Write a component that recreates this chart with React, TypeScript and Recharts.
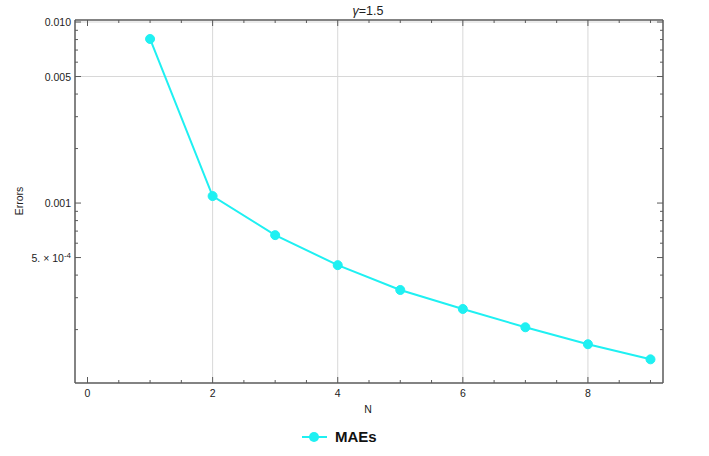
import React from "react";
import { LineChart, Line, XAxis, YAxis, ReferenceLine, Label } from "recharts";

const nValues = [1, 2, 3, 4, 5, 6, 7, 8, 9];
const maeValues = [0.00806, 0.001093, 0.000665, 0.000454, 0.000331, 0.00026, 0.000206, 0.000166, 0.000137];
const xMajorTicks = [0, 2, 4, 6, 8];
const xAllTicks = [0, 0.5, 1, 1.5, 2, 2.5, 3, 3.5, 4, 4.5, 5, 5.5, 6, 6.5, 7, 7.5, 8, 8.5, 9];
const yMajorTicks = [0.0005, 0.001, 0.005, 0.01];
const yAllTicks = [
  0.0002, 0.0003, 0.0004, 0.0005, 0.0006, 0.0007, 0.0008, 0.0009,
  0.001, 0.002, 0.003, 0.004, 0.005, 0.006, 0.007, 0.008, 0.009, 0.01,
];
const yTickLabels: Record<string, string> = { "0.001": "0.001", "0.005": "0.005", "0.01": "0.010" };
const xGrid = [2, 4, 6, 8];
const yGrid = [0.005, 0.01];

const data = nValues.map((n, i) => ({ n, mae: maeValues[i] }));

const FONT = "Liberation Sans, Arial, sans-serif";
const FRAME = "#5a5a5a";
const CYAN = "#1ff0f2";

const isMajorX = (v: number) => xMajorTicks.includes(v);
const isMajorY = (v: number) => yMajorTicks.some((t) => Math.abs(t - v) < 1e-9);

const BottomTick = (props: any) => {
  const { x, y, payload } = props;
  const major = isMajorX(payload.value);
  return (
    <g>
      <line x1={x} x2={x} y1={y} y2={y - (major ? 6 : 3)} stroke={FRAME} strokeWidth={1} />
      {major && (
        <text x={x} y={y + 14} textAnchor="middle" fontSize={10.5} fontFamily={FONT} fill="#222">
          {payload.value}
        </text>
      )}
    </g>
  );
};

const TopTick = (props: any) => {
  const { x, y, payload } = props;
  const major = isMajorX(payload.value);
  return <line x1={x} x2={x} y1={y} y2={y + (major ? 6 : 3)} stroke={FRAME} strokeWidth={1} />;
};

const LeftTick = (props: any) => {
  const { x, y, payload } = props;
  const v = payload.value;
  const major = isMajorY(v);
  const key = String(v);
  return (
    <g>
      <line x1={x} x2={x + (major ? 6 : 3)} y1={y} y2={y} stroke={FRAME} strokeWidth={1} />
      {major && Math.abs(v - 0.0005) < 1e-9 ? (
        <text x={x - 4} y={y + 4} textAnchor="end" fontSize={10.5} fontFamily={FONT} fill="#222">
          5. × 10<tspan dy={-4} fontSize={8}>-4</tspan>
        </text>
      ) : major ? (
        <text x={x - 4} y={y + 4} textAnchor="end" fontSize={10.5} fontFamily={FONT} fill="#222">
          {yTickLabels[key]}
        </text>
      ) : null}
    </g>
  );
};

const RightTick = (props: any) => {
  const { x, y, payload } = props;
  const major = isMajorY(payload.value);
  return <line x1={x} x2={x - (major ? 6 : 3)} y1={y} y2={y} stroke={FRAME} strokeWidth={1} />;
};

export default function App() {
  return (
    <div style={{ position: "absolute", left: 0, top: 0, width: 709, height: 456, background: "#fff" }}>
      <LineChart
        width={709}
        height={456}
        data={data}
        margin={{ top: 10, right: 36, bottom: 43, left: 15 }}
      >
        <XAxis
          xAxisId="b"
          dataKey="n"
          type="number"
          domain={[-0.2, 9.2]}
          allowDataOverflow
          ticks={xAllTicks}
          interval={0}
          height={30}
          tickSize={0}
          tickMargin={0}
          tickLine={false}
          tick={<BottomTick />}
          axisLine={{ stroke: FRAME, strokeWidth: 1.5 }}
        >
          <Label
            content={() => (
              <text x={368} y={413} textAnchor="middle" fontSize={10.5} fontFamily={FONT} fill="#222">
                N
              </text>
            )}
          />
        </XAxis>
        <XAxis
          xAxisId="t"
          dataKey="n"
          type="number"
          orientation="top"
          domain={[-0.2, 9.2]}
          allowDataOverflow
          ticks={xAllTicks}
          interval={0}
          height={10}
          tickSize={0}
          tickMargin={0}
          tickLine={false}
          tick={<TopTick />}
          axisLine={{ stroke: FRAME, strokeWidth: 1.5 }}
        >
          <Label
            content={() => (
              <text x={368} y={15} textAnchor="middle" fontSize={12.5} fontFamily={FONT} fill="#222">
                <tspan fontStyle="italic">γ</tspan>=1.5
              </text>
            )}
          />
        </XAxis>
        <YAxis
          yAxisId="l"
          scale="log"
          type="number"
          domain={[0.0001014, 0.01026]}
          allowDataOverflow
          ticks={yAllTicks}
          interval={0}
          width={60}
          tickSize={0}
          tickMargin={0}
          tickLine={false}
          tick={<LeftTick />}
          axisLine={{ stroke: FRAME, strokeWidth: 1.5 }}
        >
          <Label
            content={() => (
              <text
                x={23}
                y={201}
                textAnchor="middle"
                fontSize={10.5}
                fontFamily={FONT}
                fill="#222"
                transform="rotate(-90 23 201)"
              >
                Errors
              </text>
            )}
          />
        </YAxis>
        <YAxis
          yAxisId="r"
          orientation="right"
          scale="log"
          type="number"
          domain={[0.0001014, 0.01026]}
          allowDataOverflow
          ticks={yAllTicks}
          interval={0}
          width={10}
          tickSize={0}
          tickMargin={0}
          tickLine={false}
          tick={<RightTick />}
          axisLine={{ stroke: FRAME, strokeWidth: 1.5 }}
        />
        {xGrid.map((g) => (
          <ReferenceLine key={"x" + g} x={g} xAxisId="b" yAxisId="l" stroke="#d8d8d8" strokeWidth={1} />
        ))}
        {yGrid.map((g) => (
          <ReferenceLine key={"y" + g} y={g} xAxisId="b" yAxisId="l" stroke="#d8d8d8" strokeWidth={1} />
        ))}
        <Line
          xAxisId="b"
          yAxisId="l"
          dataKey="mae"
          stroke={CYAN}
          strokeWidth={2}
          dot={{ r: 4.5, fill: CYAN, stroke: CYAN, strokeWidth: 1 }}
          isAnimationActive={false}
        />
      </LineChart>
      <div
        style={{
          position: "absolute",
          left: 302,
          top: 428,
          display: "flex",
          alignItems: "center",
          fontFamily: FONT,
        }}
      >
        <svg width={26} height={14}>
          <line x1={0} x2={25} y1={7} y2={7} stroke={CYAN} strokeWidth={2} />
          <circle cx={12} cy={7} r={5} fill={CYAN} />
        </svg>
        <span style={{ fontWeight: "bold", fontSize: 15, marginLeft: 7, color: "#111" }}>MAEs</span>
      </div>
    </div>
  );
}
